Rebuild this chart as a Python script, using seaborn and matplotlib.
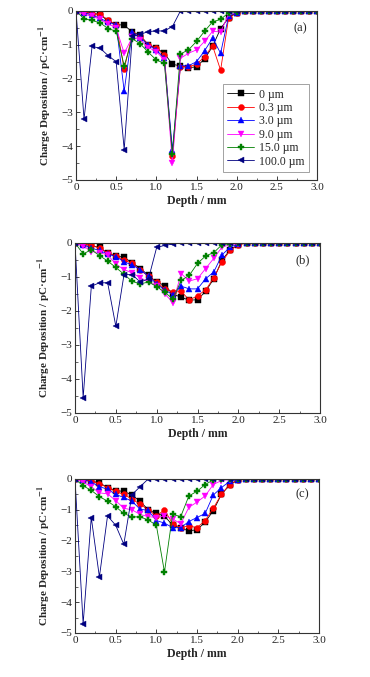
import numpy as np
import pandas as pd
import matplotlib
matplotlib.use("Agg")
import matplotlib.pyplot as plt
import seaborn as sns
from matplotlib.ticker import MultipleLocator

sns.set_theme(style="ticks")
plt.rcParams['font.family'] = ['Liberation Serif', 'DejaVu Serif']
plt.rcParams['mathtext.fontset'] = 'stix'

depth = [0.0, 0.1, 0.2, 0.3, 0.4, 0.5, 0.6, 0.7, 0.8, 0.9, 1.0,
         1.1, 1.2, 1.3, 1.4, 1.5, 1.6, 1.7, 1.8, 1.9, 2.0,
         2.1, 2.2, 2.3, 2.4, 2.5, 2.6, 2.7, 2.8, 2.9, 3.0]

series_labels = ["0 µm", "0.3 µm", "3.0 µm", "9.0 µm", "15.0 µm", "100.0 µm"]
series_colors = ["#000000", "#ff0000", "#0000ff", "#ff00ff", "#008000", "#000080"]
series_markers = ["s", "o", "^", "v", "P", "<"]

tail = [0.0] * 10

# Panel (a)
a_0um = [0, -0.03, -0.07, -0.10, -0.30, -0.40, -0.42, -0.62, -0.72, -1.00, -1.10, -1.25, -1.58, -1.62, -1.68, -1.65, -1.42, -1.05, -0.52, -0.20, -0.05] + tail
a_03um = [0, -0.03, -0.08, -0.10, -0.27, -0.40, -1.72, -0.68, -0.75, -1.00, -1.10, -1.30, -4.30, -1.65, -1.65, -1.58, -1.35, -1.03, -1.75, -0.20, -0.05] + tail
a_3um = [0, -0.05, -0.12, -0.22, -0.33, -0.40, -2.37, -0.62, -0.80, -1.00, -1.15, -1.40, -4.10, -1.62, -1.62, -1.50, -1.18, -0.80, -1.25, -0.15, -0.05] + tail
a_9um = [0, -0.10, -0.15, -0.25, -0.38, -0.50, -1.25, -0.78, -0.85, -1.08, -1.20, -1.45, -4.50, -1.40, -1.25, -1.15, -0.90, -0.60, -0.62, -0.10, -0.03] + tail
a_15um = [0, -0.23, -0.28, -0.35, -0.52, -0.60, -1.63, -0.82, -0.97, -1.22, -1.45, -1.55, -4.22, -1.27, -1.15, -0.90, -0.60, -0.32, -0.25, -0.05, -0.02] + tail
a_100um = [0, -3.20, -1.05, -1.10, -1.32, -1.50, -4.10, -0.75, -0.69, -0.61, -0.59, -0.59, -0.46, 0, 0, 0, 0, 0, 0, 0, 0] + tail

# Panel (b)
b_0um = [0, -0.03, -0.08, -0.13, -0.30, -0.38, -0.42, -0.58, -0.75, -0.95, -1.15, -1.25, -1.50, -1.60, -1.68, -1.67, -1.42, -1.05, -0.50, -0.20, -0.05] + tail
b_03um = [0, -0.03, -0.07, -0.15, -0.30, -0.38, -0.50, -0.60, -0.80, -0.98, -1.15, -1.35, -1.45, -1.42, -1.68, -1.55, -1.38, -1.02, -0.55, -0.22, -0.05] + tail
b_3um = [0, -0.05, -0.15, -0.22, -0.32, -0.40, -0.55, -0.65, -0.78, -0.98, -1.20, -1.38, -1.52, -1.27, -1.35, -1.35, -1.05, -0.85, -0.35, -0.12, -0.03] + tail
b_9um = [0, -0.08, -0.25, -0.28, -0.35, -0.62, -0.78, -0.88, -1.02, -1.15, -1.25, -1.50, -1.75, -0.90, -1.12, -1.05, -0.75, -0.45, -0.12, -0.05, -0.02] + tail
b_15um = [0, -0.32, -0.20, -0.37, -0.53, -0.72, -0.92, -1.13, -1.20, -1.15, -1.28, -1.45, -1.65, -1.10, -0.95, -0.60, -0.38, -0.28, -0.05, -0.02, 0] + tail
b_100um = [0, -4.55, -1.27, -1.17, -1.17, -2.45, -0.93, -0.93, -1.15, -1.05, -0.13, -0.07, -0.03, 0, 0, 0, 0, 0, 0, 0, 0] + tail

# Panel (c)
c_0um = [0, -0.02, -0.07, -0.12, -0.28, -0.38, -0.40, -0.52, -0.72, -1.00, -1.12, -1.20, -1.50, -1.60, -1.68, -1.65, -1.40, -1.03, -0.50, -0.20, -0.03] + tail
c_03um = [0, -0.02, -0.08, -0.15, -0.28, -0.40, -0.50, -0.65, -0.82, -1.00, -1.20, -1.00, -1.45, -1.58, -1.52, -1.58, -1.35, -0.95, -0.50, -0.18, -0.03] + tail
c_3um = [0, -0.02, -0.10, -0.25, -0.33, -0.50, -0.60, -0.72, -0.98, -1.02, -1.35, -1.43, -1.58, -1.58, -1.38, -1.25, -1.12, -0.52, -0.28, -0.08, -0.02] + tail
c_9um = [0, -0.10, -0.25, -0.45, -0.48, -0.70, -0.95, -1.00, -1.15, -1.22, -1.25, -1.20, -1.30, -1.45, -0.92, -0.75, -0.55, -0.18, -0.05, -0.02, 0] + tail
c_15um = [0, -0.22, -0.37, -0.57, -0.72, -0.90, -1.12, -1.23, -1.23, -1.33, -1.50, -3.02, -1.15, -1.22, -0.55, -0.40, -0.18, -0.03, 0, 0, 0] + tail
c_100um = [0, -4.70, -1.25, -3.18, -1.20, -1.50, -2.12, -0.51, -0.25, 0, 0, 0, 0, 0, 0, 0, 0, 0, 0, 0, 0] + tail

panels = [
    ("(a)", [a_0um, a_03um, a_3um, a_9um, a_15um, a_100um]),
    ("(b)", [b_0um, b_03um, b_3um, b_9um, b_15um, b_100um]),
    ("(c)", [c_0um, c_03um, c_3um, c_9um, c_15um, c_100um]),
]

W, H = 370, 677
fig = plt.figure(figsize=(W / 100, H / 100), dpi=100)
fig.patch.set_facecolor("white")

# axes boxes in pixels: left, top, right, bottom
boxes = [(76, 11, 317, 180), (75, 243, 320, 413), (75, 479, 319, 633)]

for (tag, data), (l, t, r, b) in zip(panels, boxes):
    ax = fig.add_axes([l / W, 1 - b / H, (r - l) / W, (b - t) / H])
    ax.set_facecolor("white")
    for vals, lab, col, mk in zip(data, series_labels, series_colors, series_markers):
        df = pd.DataFrame({"Depth": depth, "Charge": vals})
        sns.lineplot(data=df, x="Depth", y="Charge", ax=ax, color=col, marker=mk,
                     markersize=4.3, markeredgewidth=0.3, markeredgecolor=col,
                     linewidth=0.6, label=lab, legend=False, sort=False,
                     estimator=None)
    ax.set_xlim(0, 3.0)
    ax.set_ylim(-5, 0)
    ax.xaxis.set_major_locator(MultipleLocator(0.5))
    ax.xaxis.set_minor_locator(MultipleLocator(0.25))
    ax.yaxis.set_major_locator(MultipleLocator(1))
    ax.yaxis.set_minor_locator(MultipleLocator(0.5))
    ax.set_xticklabels([f"{v:.1f}" if v != 0 else "0" for v in ax.get_xticks()])
    ax.set_yticklabels([f"{int(v)}".replace("-", "\u2212") for v in ax.get_yticks()])
    ax.tick_params(which="major", direction="in", length=3, width=0.6,
                   labelsize=8, pad=2, colors="#222222")
    ax.tick_params(which="minor", direction="in", length=1.8, width=0.5)
    for sp in ax.spines.values():
        sp.set_linewidth(0.8)
        sp.set_color("#333333")
        sp.set_visible(True)
    ax.set_xlabel("Depth / mm", fontsize=8.5, fontweight="bold", labelpad=2)
    ax.set_ylabel("Charge Deposition / pC·cm$^{\\mathbf{-1}}$", fontsize=8,
                  fontweight="bold", labelpad=5)
    ax.text(0.93, 0.9, tag, transform=ax.transAxes, ha="center", va="center",
            fontsize=9)
    if tag == "(a)":
        leg = ax.legend(loc="lower right", fontsize=8.5, frameon=True, fancybox=False,
                        edgecolor="#777777", handlelength=2.3, handletextpad=0.4,
                        borderpad=0.35, labelspacing=0.12, borderaxespad=0.7,
                        markerscale=1.0)
        leg.get_frame().set_linewidth(0.6)

fig.savefig("out.png", dpi=100, facecolor="white")
